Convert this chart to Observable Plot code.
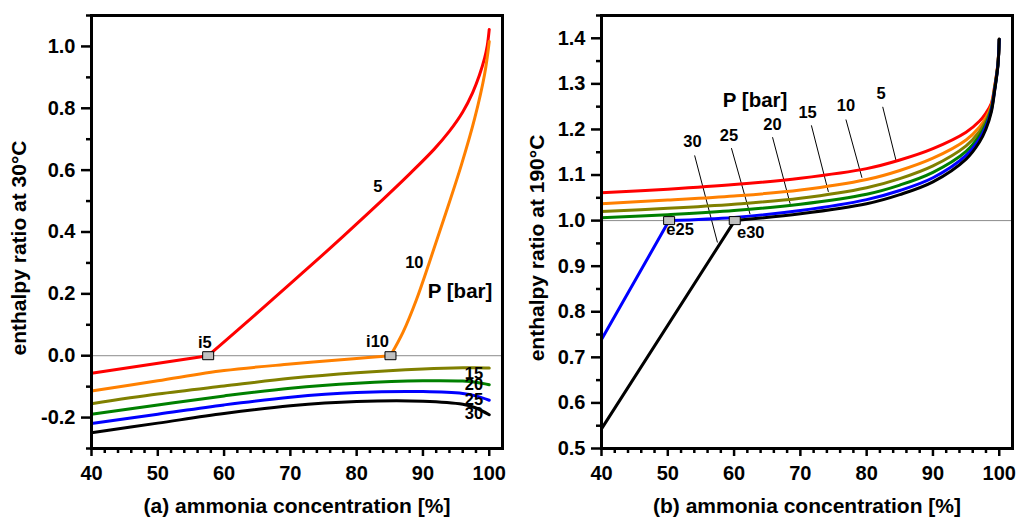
<!DOCTYPE html>
<html><head><meta charset="utf-8">
<script src="https://cdn.jsdelivr.net/npm/d3@7"></script>
<script src="https://cdn.jsdelivr.net/npm/@observablehq/plot@0.6"></script>
<style>
html,body{margin:0;padding:0;background:#fff;}
#wrap{display:flex;width:1016px;height:523px;overflow:hidden;}
</style></head><body><div id="wrap"></div>
<script>
const FONT = "'Liberation Sans', Arial, Helvetica, sans-serif";

// ---------- Panel (a): enthalpy ratio at 30°C ----------
const aColors = {"5":"#ff0000","10":"#ff8000","15":"#808000","20":"#008000","25":"#0000ff","30":"#000000"};
const a5X  = [40, 57.6, 62, 66, 70, 74.2, 78, 83.7, 88, 91.7, 94, 96, 97.5, 98.5, 99.3, 99.7, 100];
const a5Y  = [-0.057, 0, 0.082, 0.157, 0.233, 0.313, 0.387, 0.500, 0.588, 0.668, 0.726, 0.788, 0.851, 0.906, 0.962, 1.002, 1.055];
const a10X = [40, 50, 60, 70, 80, 85.1, 87, 89, 91, 93.2, 95.8, 97.8, 99.3, 100];
const a10Y = [-0.114, -0.081, -0.048, -0.027, -0.009, 0, 0.076, 0.18, 0.304, 0.445, 0.617, 0.767, 0.91, 1.016];
const aX   = [40, 50, 60, 70, 80, 90, 96, 98, 100];
const a15  = [-0.155, -0.124, -0.098, -0.073, -0.055, -0.043, -0.039, -0.039, -0.040];
const a20  = [-0.189, -0.159, -0.130, -0.105, -0.089, -0.081, -0.082, -0.086, -0.094];
const a25  = [-0.219, -0.189, -0.159, -0.134, -0.119, -0.116, -0.122, -0.130, -0.144];
const a30  = [-0.249, -0.218, -0.187, -0.162, -0.148, -0.147, -0.157, -0.169, -0.191];

const aCurveLabText = ["5", "10", "15", "20", "25", "30"];
const aCurveLabX    = [83.2, 88.7, 97.7, 97.7, 97.7, 97.7];
const aCurveLabY    = [0.548, 0.302, -0.057, -0.095, -0.143, -0.186];
const aPointText = ["i5", "i10"];
const aPointLabX = [57.1, 83.15];
const aPointLabY = [0.042, 0.045];
const aMarkX = [57.6, 85.1];
const aMarkY = [0, 0];
const aPText = ["P [bar]"], aPX = [95.6], aPY = [0.208];

const xMajor = [40, 50, 60, 70, 80, 90, 100];
const xMinor = [42, 44, 46, 48, 52, 54, 56, 58, 62, 64, 66, 68, 72, 74, 76, 78, 82, 84, 86, 88, 92, 94, 96, 98];
const aYMajor = [-0.2, 0.0, 0.2, 0.4, 0.6, 0.8, 1.0];
const aYMinor = [-0.3, -0.1, 0.1, 0.3, 0.5, 0.7, 0.9, 1.1];

// ---------- Panel (b): enthalpy ratio at 190°C ----------
const bX   = [40, 50, 60, 70, 80, 85, 90, 95, 97, 98, 98.8, 99.3, 99.8, 100];
const b5   = [1.061, 1.069, 1.079, 1.093, 1.114, 1.133, 1.158, 1.194, 1.218, 1.236, 1.257, 1.294, 1.345, 1.398];
const b10  = [1.037, 1.045, 1.054, 1.067, 1.090, 1.110, 1.137, 1.177, 1.205, 1.226, 1.252, 1.292, 1.344, 1.398];
const b15  = [1.020, 1.027, 1.036, 1.049, 1.072, 1.092, 1.120, 1.164, 1.195, 1.219, 1.248, 1.290, 1.343, 1.398];
const b20  = [1.006, 1.013, 1.022, 1.036, 1.058, 1.078, 1.106, 1.152, 1.186, 1.212, 1.245, 1.288, 1.342, 1.398];
const b25X = [40, 50.2, 60, 70, 80, 85, 90, 95, 97, 98, 98.8, 99.3, 99.8, 100];
const b25  = [0.739, 1.000, 1.007, 1.022, 1.046, 1.066, 1.094, 1.143, 1.179, 1.207, 1.242, 1.286, 1.341, 1.398];
const b30X = [40, 60.1, 70, 80, 85, 90, 95, 97, 98, 98.8, 99.3, 99.8, 100];
const b30  = [0.543, 1.000, 1.015, 1.037, 1.057, 1.085, 1.135, 1.172, 1.201, 1.238, 1.284, 1.340, 1.398];

const bCurveLabText = ["5", "10", "15", "20", "25", "30"];
const bCurveLabX    = [82.16, 76.87, 71.09, 65.80, 59.24, 53.71];
const bCurveLabY    = [1.2775, 1.251, 1.237, 1.211, 1.187, 1.172];
const bLeadX1 = [82.42, 76.87, 71.66, 65.80, 59.60, 54.05];
const bLeadY1 = [1.2496, 1.2218, 1.209, 1.183, 1.159, 1.143];
const bLeadX2 = [84.43, 79.29, 74.23, 68.46, 62.41, 57.49];
const bLeadY2 = [1.132, 1.094, 1.063, 1.037, 1.014, 0.952];
const bPointText = ["e25", "e30"];
const bPointLabX = [51.86, 62.52];
const bPointLabY = [0.980, 0.974];
const bMarkX = [50.2, 60.1];
const bMarkY = [1, 1];
const bPText = ["P [bar]"], bPX = [63.17], bPY = [1.264];
const bYMajor = [0.5, 0.6, 0.7, 0.8, 0.9, 1.0, 1.1, 1.2, 1.3, 1.4];
const bYMinor = [0.55, 0.65, 0.75, 0.85, 0.95, 1.05, 1.15, 1.25, 1.35, 1.45];

// ---------- helpers ----------
function segs(xs, ys, kink) {
  const pts = xs.map((x, i) => ({x, y: ys[i]}));
  if (kink == null) return [pts];
  return [pts.slice(0, kink + 1), pts.slice(kink)];
}
const rectSym = {draw(ctx) { ctx.rect(-5.5, -4, 11, 8); }};
const zip = (t, xs, ys) => t.map((s, i) => ({t: s, x: xs[i], y: ys[i]}));

function panel(o) {
  const lineMarks = [];
  for (const s of o.series) {
    for (const piece of segs(s.x, s.y, s.kink)) {
      lineMarks.push(Plot.line(piece, {x: "x", y: "y", stroke: s.color, strokeWidth: 3, curve: "catmull-rom"}));
    }
  }
  const axisStyle = {strokeWidth: 2.5, label: null, fontSize: 20, fontWeight: "bold"};
  const txt = {fontWeight: "bold", fill: "black", textAnchor: "middle", lineAnchor: "middle"};
  return Plot.plot({
    width: 508, height: 523,
    marginLeft: o.marginLeft, marginRight: o.marginRight, marginTop: 15, marginBottom: 75,
    x: {domain: [40, 102], label: null},
    y: {domain: o.yDomain, label: null},
    style: {fontFamily: FONT, fontWeight: "bold", fontSize: "20px", background: "#fff", color: "#000", overflow: "visible"},
    marks: [
      Plot.ruleY([o.ref], {stroke: "#8c8c8c", strokeWidth: 1}),
      Plot.axisX({...axisStyle, ticks: xMinor, tickSize: 5, tickFormat: () => ""}),
      Plot.axisX({...axisStyle, ticks: xMajor, tickSize: 8, tickPadding: 9, tickFormat: d => String(d)}),
      Plot.axisY({...axisStyle, ticks: o.yMinor, tickSize: 5, tickFormat: () => ""}),
      Plot.axisY({...axisStyle, ticks: o.yMajor, tickSize: 10, tickPadding: 6, tickFormat: d => d.toFixed(1)}),
      ...(o.leaders ? [Plot.link(o.leaders, {x1: "x1", y1: "y1", x2: "x2", y2: "y2", stroke: "black", strokeWidth: 1})] : []),
      ...lineMarks,
      Plot.dot(o.markers, {x: "x", y: "y", symbol: rectSym, r: 5, fill: "#c0c0c0", stroke: "black", strokeWidth: 1}),
      Plot.text(o.curveLabels, {x: "x", y: "y", text: "t", fontSize: 16.5, ...txt}),
      Plot.text(o.pointLabels, {x: "x", y: "y", text: "t", fontSize: 16.5, ...txt}),
      Plot.text(o.pLabel, {x: "x", y: "y", text: "t", fontSize: 20.5, ...txt}),
      Plot.frame({stroke: "black", strokeWidth: 3}),
      Plot.text([o.yTitle], {frameAnchor: "left", dx: o.yTitleDx, dy: 16, rotate: -90, fontSize: 21, ...txt}),
      Plot.text([o.xTitle], {frameAnchor: "bottom", dy: 58, fontSize: 21, ...txt})
    ]
  });
}

const wrap = document.getElementById("wrap");
wrap.appendChild(panel({
  marginLeft: 91, marginRight: 6, yDomain: [-0.3, 1.1], ref: 0,
  yMajor: aYMajor, yMinor: aYMinor,
  series: [
    {x: a5X, y: a5Y, kink: 1, color: aColors["5"]},
    {x: a10X, y: a10Y, kink: 5, color: aColors["10"]},
    {x: aX, y: a15, color: aColors["15"]},
    {x: aX, y: a20, color: aColors["20"]},
    {x: aX, y: a25, color: aColors["25"]},
    {x: aX, y: a30, color: aColors["30"]}
  ],
  markers: aMarkX.map((x, i) => ({x, y: aMarkY[i]})),
  curveLabels: zip(aCurveLabText, aCurveLabX, aCurveLabY),
  pointLabels: zip(aPointText, aPointLabX, aPointLabY),
  pLabel: zip(aPText, aPX, aPY),
  yTitle: "enthalpy ratio at 30°C", yTitleDx: -72.7,
  xTitle: "(a) ammonia concentration [%]"
}));
wrap.appendChild(panel({
  marginLeft: 93, marginRight: 4, yDomain: [0.5, 1.45], ref: 1,
  yMajor: bYMajor, yMinor: bYMinor,
  series: [
    {x: bX, y: b5, color: aColors["5"]},
    {x: bX, y: b10, color: aColors["10"]},
    {x: bX, y: b15, color: aColors["15"]},
    {x: bX, y: b20, color: aColors["20"]},
    {x: b25X, y: b25, kink: 1, color: aColors["25"]},
    {x: b30X, y: b30, kink: 1, color: aColors["30"]}
  ],
  leaders: bLeadX1.map((x1, i) => ({x1, y1: bLeadY1[i], x2: bLeadX2[i], y2: bLeadY2[i]})),
  markers: bMarkX.map((x, i) => ({x, y: bMarkY[i]})),
  curveLabels: zip(bCurveLabText, bCurveLabX, bCurveLabY),
  pointLabels: zip(bPointText, bPointLabX, bPointLabY),
  pLabel: zip(bPText, bPX, bPY),
  yTitle: "enthalpy ratio at 190°C", yTitleDx: -64.7,
  xTitle: "(b) ammonia concentration [%]"
}));
</script></body></html>
